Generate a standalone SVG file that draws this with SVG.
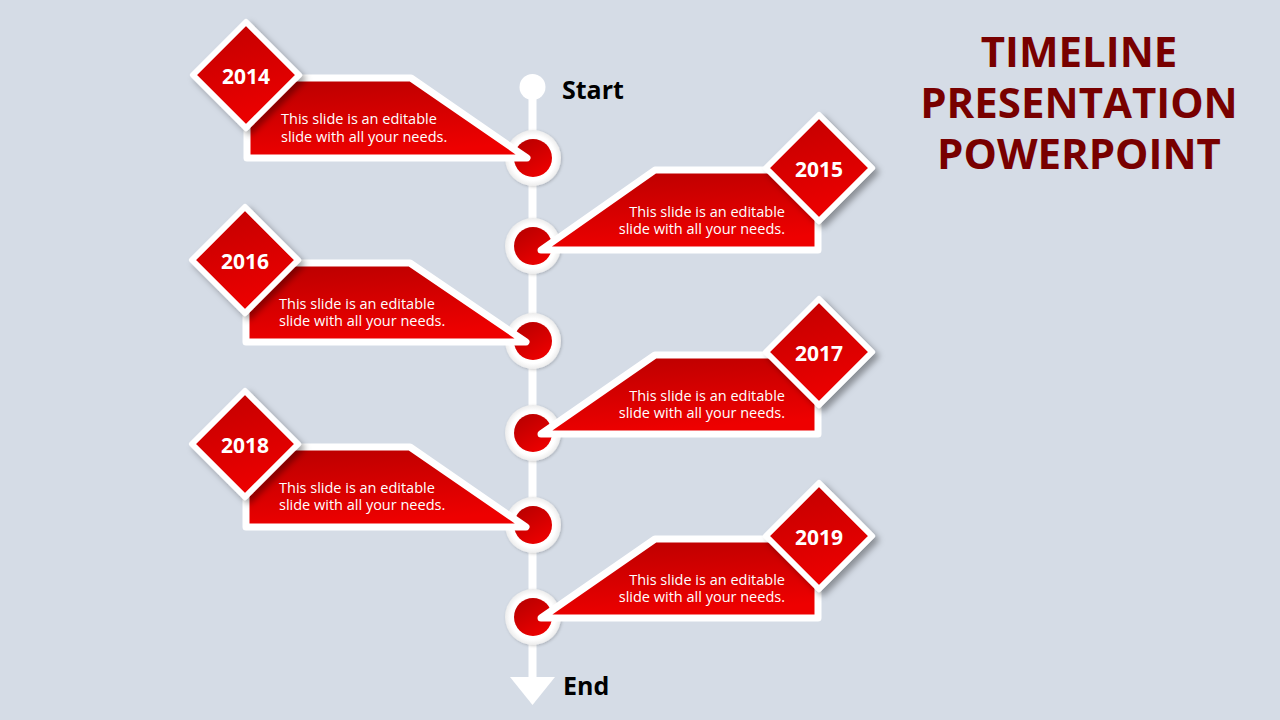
<svg xmlns="http://www.w3.org/2000/svg" width="1280" height="720" viewBox="0 0 1280 720">
<defs>
<linearGradient id="gRed" x1="0" y1="0" x2="0.25" y2="1">
<stop offset="0" stop-color="#b80000"/>
<stop offset="1" stop-color="#ee0000"/>
</linearGradient>
<linearGradient id="gDia" x1="0" y1="0" x2="0.3" y2="1">
<stop offset="0" stop-color="#c00000"/>
<stop offset="1" stop-color="#ec0000"/>
</linearGradient>
<linearGradient id="gDot" x1="0.2" y1="0" x2="0.8" y2="1">
<stop offset="0" stop-color="#b80000"/>
<stop offset="1" stop-color="#f00000"/>
</linearGradient>
<radialGradient id="gRing" cx="0.5" cy="0.5" r="0.5">
<stop offset="0.8" stop-color="#ffffff"/>
<stop offset="1" stop-color="#ececec"/>
</radialGradient>
<filter id="sh" x="-30%" y="-30%" width="170%" height="170%">
<feDropShadow dx="4" dy="4" stdDeviation="3" flood-color="#000" flood-opacity="0.35"/>
</filter>
<filter id="sh2" x="-20%" y="-20%" width="140%" height="140%">
<feDropShadow dx="1" dy="1" stdDeviation="1.5" flood-color="#000" flood-opacity="0.2"/>
</filter>
</defs>
<style>
.ban{fill:url(#gRed);stroke:#fff;stroke-width:7;stroke-linejoin:round}
.dia{fill:url(#gDia);stroke:#fff;stroke-width:6;stroke-linejoin:round;filter:url(#sh)}
.ring{fill:url(#gRing);filter:url(#sh2)}
.dot{fill:url(#gDot)}
.yr{font-family:"Open Sans","Liberation Sans",sans-serif;font-weight:bold;font-size:21px;fill:#fff;text-anchor:middle}
.tx{font-family:"Open Sans","Liberation Sans",sans-serif;font-size:14.5px;fill:#fff}
.txr{text-anchor:end}
.lbl{font-family:"Open Sans","Liberation Sans",sans-serif;font-weight:bold;font-size:25px;fill:#000}
.ttl{font-family:"Open Sans","Liberation Sans",sans-serif;font-weight:bold;font-size:42px;fill:#780000;text-anchor:middle}
</style>
<rect width="1280" height="720" fill="#d5dce6"/>

<g id="connectors">
<line x1="532.5" y1="87" x2="532.5" y2="680" stroke="#fff" stroke-width="8"/>
<polygon points="510,677 555,677 532.5,705" fill="#fff"/>
</g>

<g id="start">
<circle cx="532.5" cy="87" r="13" fill="#fff"/>
<text class="lbl" x="562" y="99">Start</text>
</g>
<g id="end">
<text class="lbl" x="563" y="695">End</text>
</g>

<g id="dots">
<g id="dot1"><circle class="ring" cx="533" cy="158" r="28"/><circle class="dot" cx="533" cy="158" r="19"/></g>
<g id="dot2"><circle class="ring" cx="533" cy="246" r="28"/><circle class="dot" cx="533" cy="246" r="19"/></g>
<g id="dot3"><circle class="ring" cx="533" cy="341" r="28"/><circle class="dot" cx="533" cy="341" r="19"/></g>
<g id="dot4"><circle class="ring" cx="533" cy="433" r="28"/><circle class="dot" cx="533" cy="433" r="19"/></g>
<g id="dot5"><circle class="ring" cx="533" cy="525" r="28"/><circle class="dot" cx="533" cy="525" r="19"/></g>
<g id="dot6"><circle class="ring" cx="533" cy="617" r="28"/><circle class="dot" cx="533" cy="617" r="19"/></g>
</g>

<g id="node2014">
<polygon class="ban" points="247,78 411,78 527,158 247,158"/>
<polygon class="dia" points="246,22 299,75 246,128 193,75"/>
<text class="yr" x="246" y="84">2014</text>
<text class="tx" x="281" y="124">This slide is an editable</text>
<text class="tx" x="281" y="141.5">slide with all your needs.</text>
</g>

<g id="node2015">
<polygon class="ban" points="541,250 655,170 818,170 818,250"/>
<polygon class="dia" points="819,115 872,168 819,221 766,168"/>
<text class="yr" x="819" y="177">2015</text>
<text class="tx txr" x="785" y="216.5">This slide is an editable</text>
<text class="tx txr" x="785" y="234">slide with all your needs.</text>
</g>

<g id="node2016">
<polygon class="ban" points="246,263 410,263 526,342 246,342"/>
<polygon class="dia" points="245,207 298,260 245,313 192,260"/>
<text class="yr" x="245" y="269">2016</text>
<text class="tx" x="279" y="308.5">This slide is an editable</text>
<text class="tx" x="279" y="326">slide with all your needs.</text>
</g>

<g id="node2017">
<polygon class="ban" points="541,434 655,355 818,355 818,434"/>
<polygon class="dia" points="819,299 872,352 819,405 766,352"/>
<text class="yr" x="819" y="361">2017</text>
<text class="tx txr" x="785" y="400.5">This slide is an editable</text>
<text class="tx txr" x="785" y="418">slide with all your needs.</text>
</g>

<g id="node2018">
<polygon class="ban" points="246,447 410,447 526,527 246,527"/>
<polygon class="dia" points="245,391 298,444 245,497 192,444"/>
<text class="yr" x="245" y="453">2018</text>
<text class="tx" x="279" y="492.5">This slide is an editable</text>
<text class="tx" x="279" y="510">slide with all your needs.</text>
</g>

<g id="node2019">
<polygon class="ban" points="541,618 655,539 818,539 818,618"/>
<polygon class="dia" points="819,483 872,536 819,589 766,536"/>
<text class="yr" x="819" y="545">2019</text>
<text class="tx txr" x="785" y="584.5">This slide is an editable</text>
<text class="tx txr" x="785" y="602">slide with all your needs.</text>
</g>

<g id="title">
<text class="ttl" x="1079" y="67">TIMELINE</text>
<text class="ttl" x="1079" y="118">PRESENTATION</text>
<text class="ttl" x="1079" y="169">POWERPOINT</text>
</g>
</svg>
